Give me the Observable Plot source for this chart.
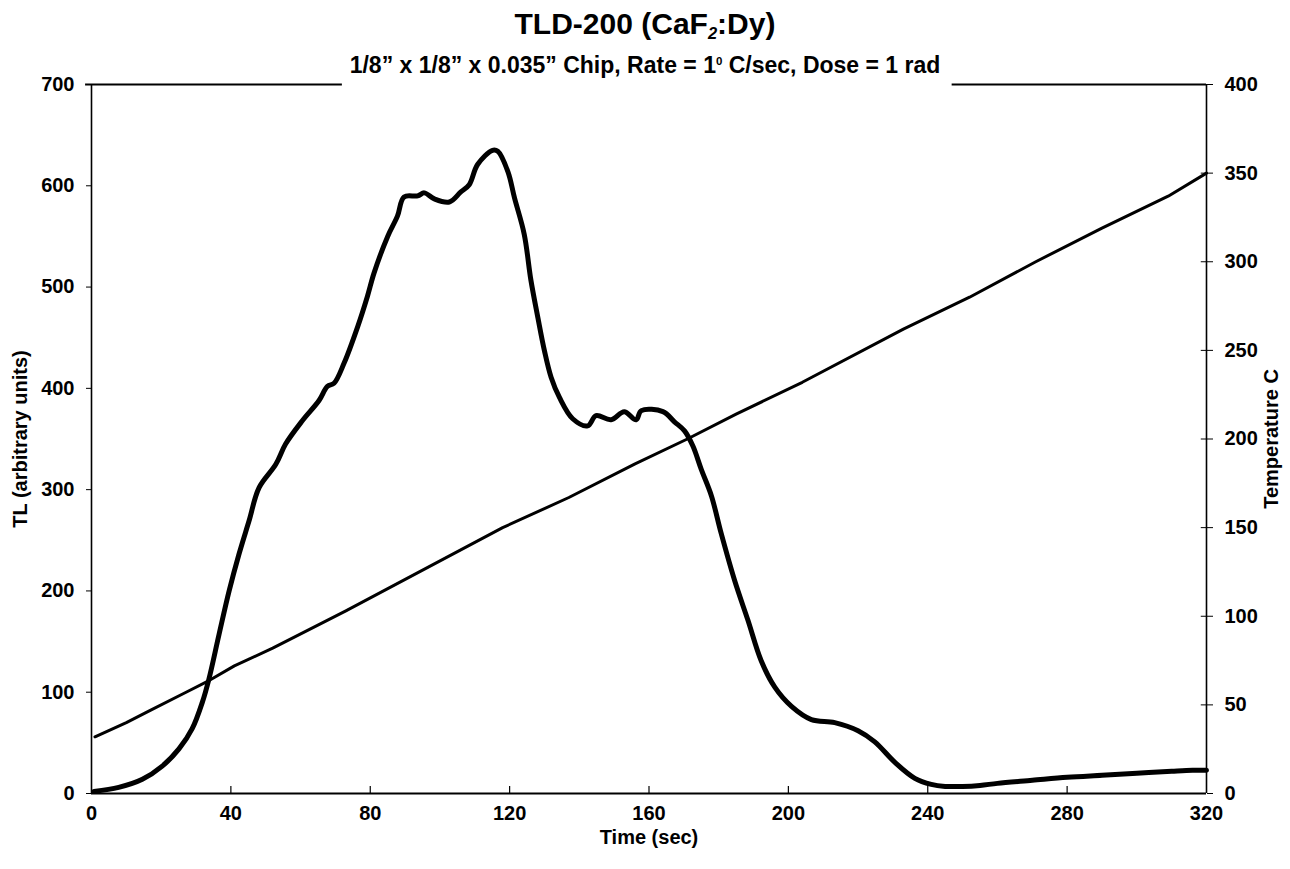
<!DOCTYPE html>
<html>
<head>
<meta charset="utf-8">
<script src="https://cdn.jsdelivr.net/npm/d3@7"></script>
<script src="https://cdn.jsdelivr.net/npm/@observablehq/plot@0.6"></script>
<style>
  body { margin: 0; background: #fff; font-family: 'Liberation Sans', Arial, sans-serif; }
  #wrap { position: relative; width: 1290px; height: 869px; }
  .ttl { position: absolute; left: 0; width: 1290px; text-align: center; font-weight: bold; color: #000; line-height: 1; white-space: nowrap; }
  #t1 { top: 9px; font-size: 30px; }
  #t2 { top: 54px; font-size: 23px; }
  .ttl sub { font-size: 0.55em; line-height: 0; vertical-align: -0.3em; font-style: italic; }
  .ttl sup { font-size: 0.5em; line-height: 0; vertical-align: 0.7em; }
</style>
</head>
<body>
<div id="wrap">
  <div id="chart"></div>
  <div class="ttl" id="t1">TLD-200 (CaF<sub>2</sub>:Dy)</div>
  <div class="ttl" id="t2">1/8” x 1/8” x 0.035” Chip, Rate = 1<sup>0</sup> C/sec, Dose = 1 rad</div>
</div>
<script>
// ---- data ----
const timeTL = [0.7, 7.8, 14.6, 20.3, 25.1, 28.9, 31.8, 33.7, 36.6, 39.5, 42.3, 45.2, 48.1, 52.9, 55.7, 60.5, 65.3, 67.7, 69.6, 72.5, 76.4, 79.2, 81.1, 85, 87.8, 89.7, 93.6, 95.5, 98.4, 102.7, 106, 108.4, 110.8, 115.1, 116.6, 119.5, 121.4, 124.2, 126.1, 128.1, 130, 131.9, 134.3, 138.1, 142.4, 144.8, 149.1, 152.9, 156.3, 157.8, 164, 167.3, 170.2, 172.6, 175, 177.9, 180.7, 184.6, 188.4, 192.2, 196.1, 200.9, 206.6, 213.3, 220, 224.8, 230.5, 236.3, 241, 245, 250, 255, 260, 270, 280, 290, 300, 310, 316, 320];
const tlValues = [2, 6, 14, 27, 44, 64, 90, 113, 157, 200, 236, 269, 302, 325, 345, 368, 388, 402, 405, 425, 461, 491, 514, 550, 570, 589, 590, 593, 587, 584, 594, 601, 621, 635, 634, 614, 588, 552, 507, 470, 437, 411, 391, 370, 363, 373, 369, 377, 369, 378, 377, 367, 358, 343, 320, 294, 257, 210, 171, 131, 105, 86, 73, 70, 62, 51, 31, 15, 9, 7, 7, 8, 10, 13, 16, 18, 20, 22, 23, 23];

const timeTemp = [1, 10, 17, 27, 34, 41, 52, 63, 73, 118, 137, 156, 171, 185, 204, 233, 252, 271, 290, 309, 320];
const tempValues = [32, 40, 47, 57, 64, 72, 82, 93, 103, 150, 167, 186, 200, 214, 232, 262, 280, 300, 319, 337, 350];

const timeTicks = [0, 40, 80, 120, 160, 200, 240, 280, 320];
const tlTicks = [0, 100, 200, 300, 400, 500, 600, 700];
const tempTicks = [0, 50, 100, 150, 200, 250, 300, 350, 400];
const topFrameSpans = [[-1.7, 72], [247, 320]];

// ---- derived tables ----
const tMax = 320, tlMax = 700, tempMax = 400, k = tlMax / tempMax;
const tlRows = timeTL.map((t, i) => ({t, v: tlValues[i]}));
const tempRows = timeTemp.map((t, i) => ({t, v: tempValues[i] * k}));
const spanRows = topFrameSpans.map(([a, b]) => ({a, b}));
const tempTickPos = tempTicks.map(v => v * k);

const chart = Plot.plot({
  width: 1290,
  height: 869,
  marginLeft: 91,
  marginRight: 84,
  marginTop: 84,
  marginBottom: 76,
  x: {domain: [0, tMax]},
  y: {domain: [0, tlMax]},
  style: {fontFamily: "'Liberation Sans', Arial, sans-serif", fontSize: "20px", fontWeight: "bold", color: "#000", background: "#fff", overflow: "visible"},
  marks: [
    Plot.axisY(tlTicks, {anchor: "left", tickSize: 5, tickPadding: 12, label: null, fontSize: 20}),
    Plot.axisY(tempTickPos, {anchor: "right", tickSize: 6, tickPadding: 12, label: null, fontSize: 20, tickFormat: d => Math.round(d / k)}),
    Plot.ruleY(tempTickPos, {x1: tMax - 1.5, x2: tMax, strokeWidth: 1}),
    Plot.axisX(timeTicks, {anchor: "bottom", tickSize: 0, tickPadding: 12, label: null, fontSize: 20}),
    Plot.ruleX(timeTicks.slice(1, -1), {y1: 0, y2: 7, strokeWidth: 1.2}),
    Plot.ruleX([0], {strokeWidth: 1.6}),
    Plot.ruleX([tMax], {strokeWidth: 1.6}),
    Plot.ruleY([0], {strokeWidth: 1.8}),
    Plot.ruleY(spanRows, {y: () => tlMax, x1: "a", x2: "b", strokeWidth: 1.8}),
    Plot.line(tempRows, {x: "t", y: "v", stroke: "#000", strokeWidth: 3, curve: "linear"}),
    Plot.line(tlRows, {x: "t", y: "v", stroke: "#000", strokeWidth: 5, curve: "catmull-rom"}),
    Plot.text(["TL (arbitrary units)"], {frameAnchor: "left", dx: -71, rotate: -90, textAnchor: "middle", lineAnchor: "middle", fontSize: 20, fontWeight: "bold"}),
    Plot.text(["Temperature C"], {frameAnchor: "right", dx: 65, rotate: -90, textAnchor: "middle", lineAnchor: "middle", fontSize: 20, fontWeight: "bold"}),
    Plot.text(["Time (sec)"], {frameAnchor: "bottom", dy: 44, textAnchor: "middle", lineAnchor: "middle", fontSize: 20, fontWeight: "bold"})
  ]
});
document.getElementById("chart").appendChild(chart);
</script>
</body>
</html>
